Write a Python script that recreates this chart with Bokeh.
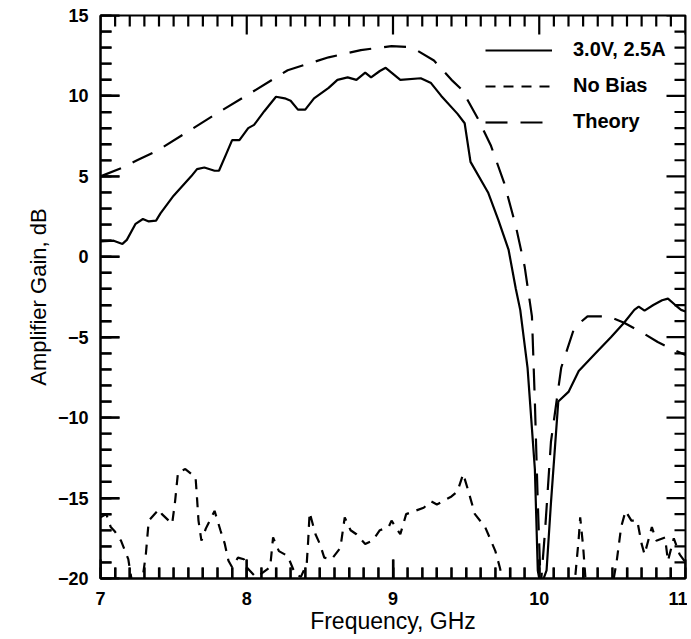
import numpy as np
from bokeh.plotting import figure
from bokeh.models import SingleIntervalTicker, Range1d, Legend, LegendItem, Title
from bokeh.embed import file_html
from bokeh.resources import INLINE

# ---- data ----
bias_f = [7.0, 7.09, 7.15, 7.18, 7.24, 7.29, 7.33, 7.38, 7.41, 7.50, 7.62, 7.66, 7.71, 7.78, 7.81,
          7.86, 7.90, 7.95, 8.01, 8.05, 8.12, 8.20, 8.26, 8.30, 8.35, 8.40, 8.46, 8.56, 8.62, 8.69,
          8.75, 8.81, 8.85, 8.91, 8.95, 9.05, 9.19, 9.26, 9.33, 9.44, 9.49, 9.53, 9.65, 9.72, 9.79,
          9.84, 9.87, 9.92, 9.97, 9.99, 10.01, 10.05, 10.08, 10.13, 10.20, 10.27, 10.38, 10.49,
          10.58, 10.65, 10.68, 10.72, 10.78, 10.84, 10.88, 10.93, 10.97, 11.0]
bias_g = [0.95, 1.0, 0.8, 1.05, 2.05, 2.35, 2.2, 2.25, 2.7, 3.8, 5.0, 5.45, 5.55, 5.35, 5.35,
          6.4, 7.25, 7.25, 8.0, 8.2, 9.05, 9.95, 9.85, 9.7, 9.15, 9.15, 9.85, 10.5, 11.0, 11.15,
          11.0, 11.45, 11.15, 11.55, 11.75, 11.0, 11.1, 10.8, 10.0, 8.9, 8.3, 5.9, 4.0, 2.3, 0.45,
          -2.0, -3.3, -6.9, -13.2, -19.5, -20.5, -19.5, -15.3, -9.0, -8.4, -7.1, -6.05, -5.0,
          -4.1, -3.3, -3.1, -3.35, -3.0, -2.7, -2.6, -3.0, -3.3, -3.4]

nobias_f = [7.0, 7.04, 7.07, 7.10, 7.14, 7.19, 7.22, 7.28, 7.31, 7.33, 7.40, 7.42, 7.49, 7.51, 7.53,
            7.58, 7.65, 7.66, 7.67, 7.69, 7.72, 7.78, 7.82, 7.85, 7.875, 7.90, 7.94, 7.98, 8.0,
            8.06, 8.10, 8.16, 8.18, 8.22, 8.28, 8.33, 8.37, 8.41, 8.42, 8.43, 8.47, 8.50, 8.53,
            8.58, 8.64, 8.67, 8.71, 8.75, 8.81, 8.86, 8.91, 8.97, 8.99, 9.05, 9.09, 9.15, 9.21,
            9.26, 9.30, 9.40, 9.44, 9.48, 9.51, 9.56, 9.63, 9.70, 9.73, 9.76, 10.24, 10.27, 10.28,
            10.30, 10.32, 10.50, 10.53, 10.56, 10.59, 10.63, 10.67, 10.70, 10.72, 10.77, 10.80,
            10.86, 10.88, 10.92, 10.96, 11.0]
nobias_g = [-16.2, -16.0, -16.8, -17.1, -17.65, -18.8, -20.5, -20.5, -18.5, -16.4, -15.7, -16.0,
            -16.6, -15.2, -13.4, -13.2, -13.7, -15.0, -16.4, -17.65, -16.9, -15.8, -17.0, -17.85,
            -18.9, -19.3, -18.7, -18.8, -19.3, -19.9, -19.7, -19.3, -17.45, -18.3, -18.6, -19.7,
            -19.9, -19.1, -17.65, -15.9, -17.25, -17.85, -18.7, -18.8, -18.1, -16.2, -17.0, -17.25,
            -17.85, -17.65, -17.0, -16.8, -16.4, -17.25, -16.0, -15.8, -15.6, -15.2, -15.4, -14.9,
            -14.6, -13.5, -14.4, -16.0, -16.8, -18.3, -19.3, -20.5, -20.5, -17.5, -16.2, -18.0,
            -20.5, -20.5, -18.9, -16.8, -15.8, -16.4, -16.4, -17.85, -18.5, -16.8, -17.65, -17.45,
            -18.9, -17.5, -18.5, -19.0]

theory_f = [7.0, 7.14, 7.25, 7.39, 7.60, 7.82, 8.03, 8.28, 8.56, 8.78, 8.99, 9.10, 9.17, 9.28,
            9.40, 9.47, 9.58, 9.67, 9.76, 9.84, 9.90, 9.95, 9.97, 9.99, 10.01, 10.04, 10.08, 10.15,
            10.24, 10.33, 10.47, 10.58, 10.72, 10.81, 10.90, 11.0]
theory_g = [5.0, 5.5, 6.0, 6.6, 7.8, 9.05, 10.2, 11.6, 12.4, 12.85, 13.1, 13.05, 12.8, 12.2,
            11.0, 10.4, 8.6, 6.9, 4.6, 1.9, -0.6, -3.7, -9.0, -15.3, -20.5, -17.0, -11.5, -6.9,
            -4.4, -3.7, -3.7, -4.1, -4.8, -5.3, -5.7, -6.1]

legend_labels = ["3.0V, 2.5A", "No Bias", "Theory"]
x_ticks = [7, 8, 9, 10, 11]
y_ticks = [-20, -15, -10, -5, 0, 5, 10, 15]
x_minor_step = 0.1
y_minor_step = 1.0

FONT = "Liberation Sans"
X0, X1 = x_ticks[0], x_ticks[-1]
Y0, Y1 = y_ticks[0], y_ticks[-1]

W, H = 687, 639
BL, BR, BT, BB = 100, 2, 15, 61
p = figure(width=W, height=H, output_backend="svg", toolbar_location=None,
           x_range=Range1d(X0, X1), y_range=Range1d(Y0, Y1),
           min_border_left=BL, min_border_right=BR, min_border_top=BT, min_border_bottom=BB,
           x_axis_label="Frequency, GHz")
p.background_fill_color = "white"
p.border_fill_color = "white"
p.outline_line_color = "black"
p.outline_line_width = 2
p.xgrid.visible = False
p.ygrid.visible = False

p.xaxis.ticker = SingleIntervalTicker(interval=1, num_minor_ticks=10)
p.yaxis.ticker = SingleIntervalTicker(interval=5, num_minor_ticks=5)
for ax in (p.xaxis[0], p.yaxis[0]):
    ax.axis_line_color = "black"
    ax.axis_line_width = 2
    ax.major_tick_line_color = "black"
    ax.minor_tick_line_color = "black"
    ax.major_tick_line_width = 2
    ax.minor_tick_line_width = 2
    ax.major_tick_in = 19
    ax.major_tick_out = 0
    ax.minor_tick_in = 11
    ax.minor_tick_out = 0
    ax.major_label_text_font = FONT
    ax.major_label_text_font_style = "bold"
    ax.major_label_text_font_size = "18px"
    ax.major_label_text_color = "black"
    ax.axis_label_text_font = FONT
    ax.axis_label_text_font_style = "normal"
    ax.axis_label_text_font_size = "23px"
    ax.axis_label_text_color = "black"
p.xaxis.major_label_standoff = 13
p.xaxis.axis_label_standoff = 0
p.yaxis.major_label_standoff = 12

ytitle = Title(text="Amplifier Gain, dB", align="center", offset=41, standoff=8,
               text_font=FONT, text_font_style="normal", text_font_size="22px",
               text_color="black")
p.add_layout(ytitle, "left")

r_bias = p.line(bias_f, bias_g, line_color="black", line_width=2.2)
r_nob = p.line(nobias_f, nobias_g, line_color="black", line_width=2.2, line_dash="10 8")
r_th = p.line(theory_f, theory_g, line_color="black", line_width=2.2, line_dash="22 13")

# inward tick marks on all four sides (multi_line), lengths converted from px to data units
fw = W - BL - BR
fh = H - BT - BB
ux = (X1 - X0) / fw
uy = (Y1 - Y0) / fh
MAJ, MIN = 19, 11
xmin = [round(float(v), 2) for v in np.arange(X0, X1 + 1e-9, x_minor_step)
        if abs(v - round(v)) > 1e-6]
ymin = [round(float(v), 2) for v in np.arange(Y0, Y1 + 1e-9, y_minor_step)
        if abs(v % 5) > 1e-6]
txs, tys = [], []
for xs, L in ((x_ticks, MAJ), (xmin, MIN)):
    for x in xs:
        txs.append([x, x]); tys.append([Y0, Y0 + L * uy])
        txs.append([x, x]); tys.append([Y1, Y1 - L * uy])
for ys, L in ((y_ticks, MAJ), (ymin, MIN)):
    for y in ys:
        txs.append([X0, X0 + L * ux]); tys.append([y, y])
        txs.append([X1, X1 - L * ux]); tys.append([y, y])
p.multi_line(txs, tys, line_color="black", line_width=2.2)

legend = Legend(items=[LegendItem(label=legend_labels[0], renderers=[r_bias]),
                       LegendItem(label=legend_labels[1], renderers=[r_nob]),
                       LegendItem(label=legend_labels[2], renderers=[r_th])],
                location=(385, 445))
legend.glyph_width = 67
legend.glyph_height = 20
legend.label_height = 20
legend.spacing = 13
legend.padding = 0
legend.margin = 0
legend.label_standoff = 21
legend.border_line_color = None
legend.background_fill_alpha = 0
legend.label_text_font = FONT
legend.label_text_font_style = "bold"
legend.label_text_font_size = "20px"
legend.label_text_color = "black"
p.add_layout(legend)

open("out.html", "w").write(file_html(p, INLINE))
